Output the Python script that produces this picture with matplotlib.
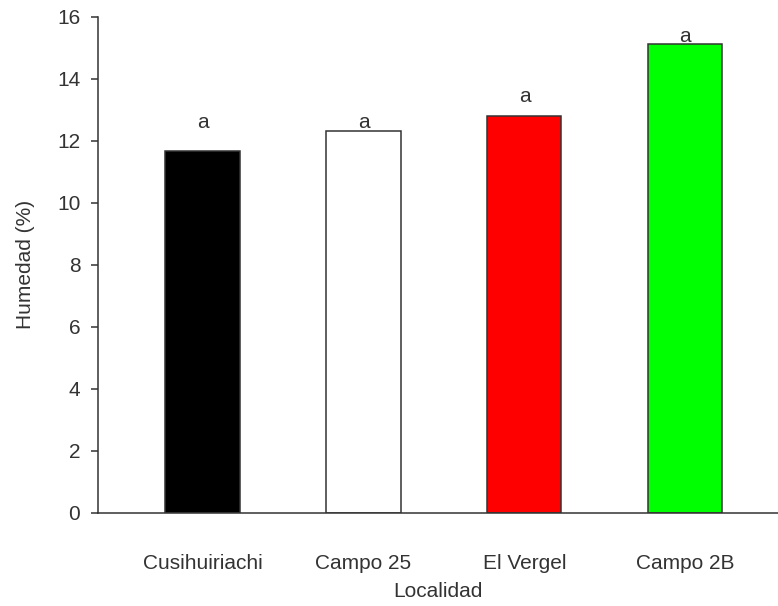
import matplotlib
matplotlib.use("Agg")
import matplotlib.pyplot as plt

plt.rcParams['font.family'] = ['Liberation Sans', 'DejaVu Sans']

localidades = ["Cusihuiriachi", "Campo 25", "El Vergel", "Campo 2B"]
humedad = [11.68, 12.32, 12.81, 15.13]
letras = ["a", "a", "a", "a"]
letra_y = [12.41, 12.40, 13.25, 15.18]
colores = ["#000000", "#ffffff", "#ff0000", "#00ff00"]
y_ticks = [0, 2, 4, 6, 8, 10, 12, 14, 16]

text_color = "#333333"
line_color = "#333333"

fig = plt.figure(figsize=(7.78, 6.06), dpi=100)
ax = fig.add_axes([0.1264, 0.154, 1.0 - 0.1264, 0.9724 - 0.154])

x = list(range(len(localidades)))
ax.bar(x, humedad, width=0.46, color=colores, edgecolor=line_color, linewidth=1.1)

for xi, lab, ly in zip(x, letras, letra_y):
    ax.text(xi, ly, lab, ha="center", va="baseline", fontsize=15, color=text_color)

ax.set_xlim(-0.647, 3.575)
ax.set_ylim(0, 16)
ax.set_yticks(y_ticks)
ax.set_xticks(x)
ax.set_xticklabels(localidades)

ax.spines["top"].set_visible(False)
ax.spines["right"].set_visible(False)
for s in ("left", "bottom"):
    ax.spines[s].set_color(line_color)
    ax.spines[s].set_linewidth(1.1)

ax.tick_params(axis="y", direction="out", length=5, width=1.1, color=line_color,
               labelsize=15, labelcolor=text_color, pad=8)
ax.tick_params(axis="x", length=0, labelsize=15, labelcolor=text_color, pad=30)

ax.set_xlabel("Localidad", fontsize=15, color=text_color, labelpad=6)
ax.set_ylabel("Humedad (%)", fontsize=15, color=text_color, labelpad=16)

fig.savefig("out.png", dpi=100)
